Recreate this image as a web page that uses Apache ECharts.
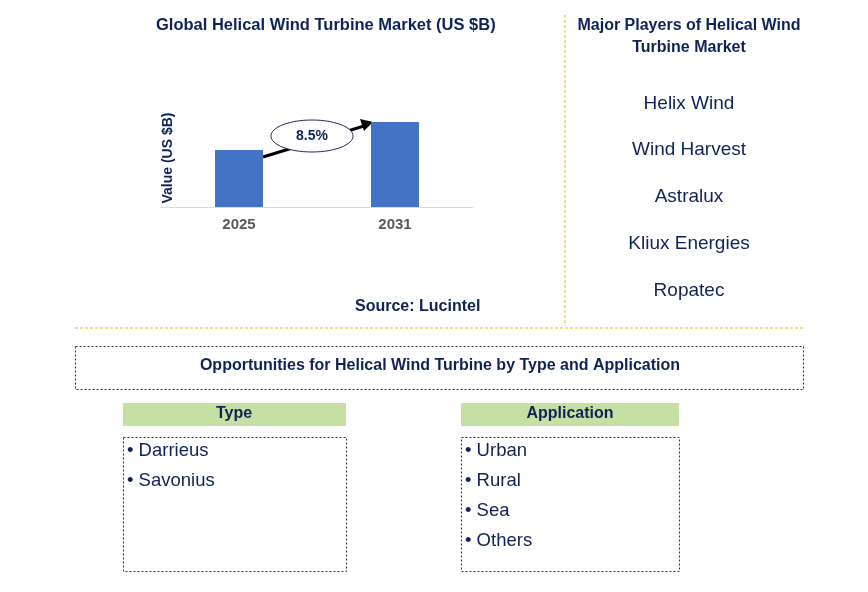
<!DOCTYPE html>
<html><head><meta charset="utf-8">
<script src="https://cdn.jsdelivr.net/npm/echarts@6/dist/echarts.min.js"></script>
<style>html,body{margin:0;padding:0;background:#fff}#c{width:868px;height:592px}</style>
</head><body><div id="c"></div>
<script>
const years = ['2025', '2031'];
const values = [57, 85];
const cagr = '8.5%';
const players = ['Helix Wind', 'Wind Harvest', 'Astralux', 'Kliux Energies', 'Ropatec'];
const types = ['Darrieus', 'Savonius'];
const apps = ['Urban', 'Rural', 'Sea', 'Others'];
const navy = '#0f2257';
const F = 'Arial, "Liberation Sans", sans-serif';
const g = [];
function rect(x, y, w, h, st) { g.push({type:'rect', shape:{x, y, width:w, height:h}, style:st}); }
function t(x, y, s, font, align) { g.push({type:'text', style:{text:s, x, y, align:align||'left', fill:navy, font:font+' '+F}}); }
t(156, 17, 'Global Helical Wind Turbine Market (US $B)', 'bold 16.5px');
t(355, 299, 'Source: Lucintel', 'bold 16px');
g.push({type:'text', style:{text:'Major Players of Helical Wind\nTurbine Market', x:689, y:15, align:'center', fill:navy, font:'bold 16px '+F, lineHeight:22}});
players.forEach((p, i) => t(689, 94 + i*46.7, p, '19px', 'center'));
g.push({type:'line', shape:{x1:565, y1:15, x2:565, y2:326}, style:{stroke:'#f0b400', lineDash:[3,2], lineWidth:1}});
g.push({type:'line', shape:{x1:75, y1:328, x2:803, y2:328}, style:{stroke:'#f0b400', lineDash:[3,2], lineWidth:1}});
rect(75.5, 346.5, 728, 43, {fill:'none', stroke:'#333', lineDash:[2,2], lineWidth:1});
t(440, 358, 'Opportunities for Helical Wind Turbine by Type and Application', 'bold 16px', 'center');
rect(123, 403, 223, 23, {fill:'#c6e0a4'});
rect(461, 403, 218, 23, {fill:'#c6e0a4'});
t(234, 406, 'Type', 'bold 16px', 'center');
t(570, 406, 'Application', 'bold 16px', 'center');
rect(123.5, 437.5, 223, 134, {fill:'none', stroke:'#333', lineDash:[2,2], lineWidth:1});
rect(461.5, 437.5, 218, 134, {fill:'none', stroke:'#333', lineDash:[2,2], lineWidth:1});
types.forEach((s, i) => t(127, 441 + i*30, '• '+s, '18.5px'));
apps.forEach((s, i) => t(465, 441 + i*30, '• '+s, '18.5px'));
g.push({type:'line', shape:{x1:263, y1:157, x2:364, y2:126}, style:{stroke:'#000', lineWidth:3}});
g.push({type:'polygon', shape:{points:[[373,122],[360,119],[364,131]]}, style:{fill:'#000'}});
g.push({type:'ellipse', shape:{cx:312, cy:136, rx:41, ry:16}, style:{fill:'#fff', stroke:'#1f2d55', lineWidth:1}});
t(312, 129, cagr, 'bold 14px', 'center');
g.push({type:'text', rotation:Math.PI/2, x:168, y:158, style:{text:'Value (US $B)', align:'center', verticalAlign:'middle', fill:navy, font:'bold 14px '+F}});

const chart = echarts.init(document.getElementById('c'));
chart.setOption({
  animation:false,
  grid:{left:161, width:312, top:100, height:107},
  xAxis:{type:'category', data:years, axisTick:{show:false},
    axisLine:{lineStyle:{color:'#d9d9d9'}},
    axisLabel:{color:'#595959', fontWeight:'bold', fontSize:15, fontFamily:F, margin:10}},
  yAxis:{type:'value', min:0, max:107, show:false, splitLine:{show:false}},
  series:[{type:'bar', data:values, barWidth:48, itemStyle:{color:'#4472c4'}}],
  graphic:g
});
</script></body></html>
